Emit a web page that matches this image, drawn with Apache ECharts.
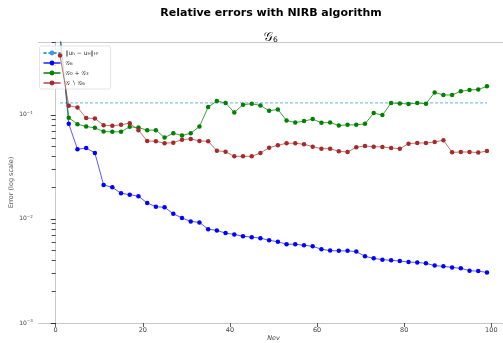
<!DOCTYPE html>
<html>
<head>
<meta charset="utf-8">
<script src="https://cdn.jsdelivr.net/npm/echarts@6/dist/echarts.min.js"></script>
<style>html,body{margin:0;padding:0;background:#fff;}#c{width:503px;height:343px;}</style>
</head>
<body>
<div id="c"></div>
<script>
// Nev values
const nev = [1,3,5,7,9,11,13,15,17,19,21,23,25,27,29,31,33,35,37,39,41,43,45,47,49,51,53,55,57,59,61,63,65,67,69,71,73,75,77,79,81,83,85,87,89,91,93,95,97,99];
// G6
const errG6 = [0.6,0.0818,0.0466,0.048,0.043,0.0212,0.0201,0.0176,0.0171,0.0165,0.0142,0.0131,0.0129,0.0112,0.0102,0.00946,0.00925,0.00797,0.00775,0.0073,0.00708,0.00682,0.00668,0.00653,0.00624,0.00602,0.00571,0.00571,0.00558,0.00546,0.00511,0.00496,0.00493,0.00493,0.00485,0.00437,0.00418,0.00406,0.004,0.00394,0.00385,0.00382,0.00374,0.00356,0.0035,0.00342,0.00335,0.00318,0.00315,0.00306];
// G0 + G3
const errG0G3 = [0.55,0.0935,0.0813,0.0771,0.0749,0.069,0.0686,0.0686,0.0766,0.0754,0.0712,0.0712,0.0604,0.0665,0.0631,0.0665,0.0771,0.1186,0.1355,0.1297,0.1052,0.125,0.1277,0.123,0.1093,0.1125,0.0881,0.0843,0.0869,0.0909,0.0837,0.0843,0.0788,0.08,0.08,0.0818,0.1038,0.0993,0.1297,0.1286,0.1268,0.1297,0.1277,0.164,0.155,0.155,0.168,0.173,0.175,0.1875];
// G \ G6
const errGnotG6 = [0.37,0.122,0.1177,0.0929,0.0921,0.0795,0.0783,0.08,0.0831,0.0712,0.0561,0.0557,0.0533,0.054,0.0577,0.0586,0.0561,0.0557,0.0452,0.0442,0.0399,0.0399,0.0399,0.043,0.0483,0.0509,0.0533,0.0533,0.0521,0.0494,0.0472,0.0472,0.0446,0.0439,0.0488,0.0501,0.0494,0.0491,0.048,0.0472,0.0528,0.0536,0.0536,0.0548,0.057,0.0436,0.0439,0.0439,0.0433,0.0449];
// reference ||u_h - u_H||_{H1}
const refX = [1, 99];
const refValue = 0.13;
// ticks
const xTicks = [0,20,40,60,80,100];
const yMajorTicks = [0.001,0.01,0.1];
const yMinorTicks = [0.002,0.003,0.004,0.005,0.006,0.007,0.008,0.009,0.02,0.03,0.04,0.05,0.06,0.07,0.08,0.09,0.2,0.3,0.4,0.5];

const FONT = 'DejaVu Sans';
const CAL = 'DejaVu Sans, Noto Sans Math, serif';

function pairs(ys){ return nev.map((x,i)=>[x, ys[i]]); }

const chart = echarts.init(document.getElementById('c'), null, {renderer:'canvas'});
const legendNames = {
  ref: '‖u{sub|h} − u{sub|H}‖{sub|H¹}',
  g6: '{cal|𝒢}{sub|6}',
  g03: '{cal|𝒢}{sub|0} + {cal|𝒢}{sub|3}',
  gn6: '{cal|𝒢} ∖ {cal|𝒢}{sub|6}'
};
const spineColor = '#c8c8c8';
const option = {
  animation: false,
  backgroundColor: '#fff',
  title: [
    {text: 'Relative errors with NIRB algorithm', left: 266, top: 3, textAlign: 'center',
     textStyle: {fontFamily: FONT, fontWeight: 'bold', fontSize: 11, color: '#000'}},
    {text: '{cal|𝒢}{sub|6}', left: 266, top: 27, textAlign: 'center',
     textStyle: {fontWeight: 'normal', rich: {cal: {fontFamily: CAL, fontWeight: 'normal', fontSize: 12, color: '#000'},
                        sub: {fontFamily: FONT, fontWeight: 'normal', fontSize: 7.5, color: '#000', padding: [4,0,0,0]}}}}
  ],
  grid: {left: 38.7, right: -5.3, top: 42, bottom: 20, containLabel: false, outerBoundsMode: 'none'},
  legend: {
    left: 39.5, top: 46, orient: 'vertical',
    backgroundColor: 'rgba(255,255,255,0.8)', borderColor: '#dddddd', borderWidth: 0.8, borderRadius: 2,
    padding: [4,12,3,3], itemGap: 4, itemWidth: 17, itemHeight: 6,
    data: ['ref','g6','g03','gn6'],
    formatter: n => legendNames[n],
    textStyle: {fontFamily: FONT, fontSize: 6, color: '#333',
      rich: {cal: {fontFamily: CAL, fontWeight: 'normal', fontSize: 6, color: '#333'},
             sub: {fontFamily: FONT, fontSize: 4.2, color: '#333', padding: [2,0,0,0]}}}
  },
  xAxis: [{
    type: 'value', min: -3.9, max: 103.9, position: 'bottom',
    name: 'Nev', nameLocation: 'middle', nameGap: 12, nameMoveOverlap: false,
    nameTextStyle: {fontFamily: FONT, fontStyle: 'italic', fontSize: 6.5, color: '#444'},
    axisLine: {show: true, lineStyle: {color: spineColor, width: 1}},
    axisTick: {show: true, inside: false, length: 4, customValues: xTicks, lineStyle: {color: '#333', width: 0.8}},
    axisLabel: {customValues: xTicks, fontFamily: FONT, fontSize: 6.5, color: '#444', margin: 4},
    splitLine: {show: false}
  },{
    type: 'value', min: -3.9, max: 103.9, position: 'top',
    axisLine: {show: true, onZero: false, lineStyle: {color: spineColor, width: 1}},
    axisTick: {show: false}, axisLabel: {show: false}, splitLine: {show: false}
  }],
  yAxis: [{
    type: 'log', logBase: 10, min: 0.001, max: 0.5, position: 'left',
    name: 'Error (log scale)', nameLocation: 'middle', nameGap: 24, nameMoveOverlap: false,
    nameTextStyle: {fontFamily: FONT, fontSize: 6.5, color: '#555'},
    axisLine: {show: true, lineStyle: {color: spineColor, width: 1}},
    axisTick: {show: true, inside: false, length: 5, customValues: yMajorTicks, lineStyle: {color: '#222', width: 0.9}},
    axisLabel: {customValues: yMajorTicks, margin: 6, color: '#444',
      formatter: v => '{b|10}{s|−' + Math.round(-Math.log10(v)) + '}',
      rich: {b: {fontFamily: FONT, fontSize: 6, color: '#444'},
             s: {fontFamily: FONT, fontSize: 4, color: '#444', padding: [0,0,4,0]}}},
    splitLine: {show: false}
  },{
    type: 'log', logBase: 10, min: 0.001, max: 0.5, position: 'left',
    axisLine: {show: false},
    axisTick: {show: true, inside: false, length: 4, customValues: yMinorTicks, lineStyle: {color: '#222', width: 0.8}},
    axisLabel: {show: false}, splitLine: {show: false}
  }],
  series: [
    {name: 'ref', type: 'line', data: refX.map(x => [x, refValue]), symbol: 'none',
     lineStyle: {color: '#3d9be0', width: 0.8, type: [3,2]}, itemStyle: {color: '#3d9be0'}, z: 1},
    {name: 'g6', type: 'line', data: pairs(errG6), symbol: 'circle', symbolSize: 4.5,
     lineStyle: {color: '#0000ff', width: 1, opacity: 0.65}, itemStyle: {color: '#0000ff'}, z: 2},
    {name: 'g03', type: 'line', data: pairs(errG0G3), symbol: 'circle', symbolSize: 4.5,
     lineStyle: {color: '#008000', width: 1, opacity: 0.75}, itemStyle: {color: '#008000'}, z: 3},
    {name: 'gn6', type: 'line', data: pairs(errGnotG6), symbol: 'circle', symbolSize: 4.5,
     lineStyle: {color: '#a52a2a', width: 1, opacity: 0.65}, itemStyle: {color: '#a52a2a'}, z: 4}
  ]
};
chart.setOption(option);
</script>
</body>
</html>
